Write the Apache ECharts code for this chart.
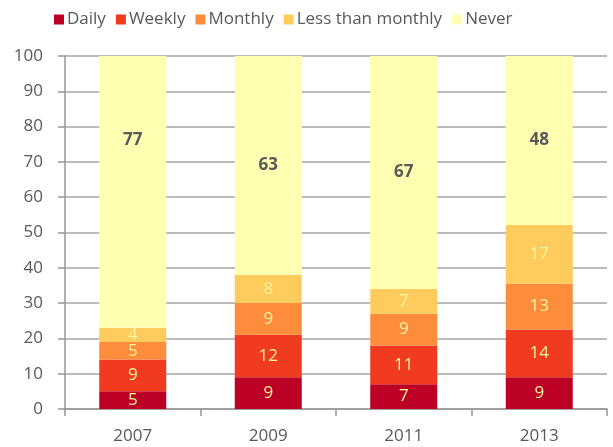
<!doctype html>
<html lang="en">
  <head>
    <meta charset="utf-8">
    <title>Frequency by year</title>
    <script src="https://cdn.jsdelivr.net/npm/echarts@6/dist/echarts.min.js"></script>
    <style>
      body { margin: 0; background: #fff; }
      #chart { width: 613px; height: 447px; }
    </style>
  </head>
  <body>
    <div id="chart"></div>
  <script>
    // data (2013 bars are a bit shorter than the rounded labels say)
    var years = ['2007', '2009', '2011', '2013'];
    var daily = [5, 9, 7, 9];
    var weekly = [9, 12, 11, 13.5];
    var monthly = [5, 9, 9, 13];
    var lessThanMonthly = [4, 8, 7, 16.6];
    var never = [77, 63, 67, 48];
    var yTicks = [0, 10, 20, 30, 40, 50, 60, 70, 80, 90, 100];

    var colors = ['#bd0026', '#f03b20', '#fd8d3c', '#fecc5c', '#ffffb2'];
    var font = 'Open Sans';

    function makeSeries(name, values, color, dark) {
      return {
        name: name,
        type: 'bar',
        stack: 'all',
        barWidth: 67,
        data: values,
        itemStyle: { color: color },
        label: {
          show: true,
          position: 'inside',
          formatter: function (p) { return Math.round(p.value); },
          fontFamily: font,
          fontSize: 17,
          fontWeight: dark ? 'bold' : 'normal',
          color: dark ? '#595959' : '#fbf59a'
        }
      };
    }

    var chart = echarts.init(document.getElementById('chart'), null, { renderer: 'canvas' });

    var neverSeries = makeSeries('Never', never, colors[4], true);
    // Excel put the 2007 label higher than the middle of its segment
    neverSeries.data = never.map(function (v, i) {
      return i === 0 ? { value: v, label: { offset: [0, -52] } } : v;
    });

    var option = {
      animation: false,
      color: colors,
      legend: {
        top: 6,
        left: 49,
        itemWidth: 10,
        itemHeight: 10,
        itemGap: 10,
        icon: 'rect',
        textStyle: { fontFamily: font, fontSize: 17, color: '#595959', padding: [0, 0, 0, -2] },
        data: ['Daily', 'Weekly', 'Monthly', 'Less than monthly', 'Never']
      },
      grid: { left: 65, right: 6, top: 56, bottom: 38 },
      xAxis: {
        type: 'category',
        data: years,
        axisLine: { lineStyle: { color: '#969696', width: 1.5 } },
        axisTick: { show: true, length: 7, lineStyle: { color: '#969696', width: 1.5 } },
        axisLabel: { fontFamily: font, fontSize: 17, color: '#595959', margin: 19 }
      },
      yAxis: {
        type: 'value',
        min: yTicks[0],
        max: yTicks[yTicks.length - 1],
        interval: 10,
        axisLine: { show: true, lineStyle: { color: '#969696', width: 1.5 } },
        axisTick: { show: true, length: 7, lineStyle: { color: '#969696', width: 1.5 } },
        axisLabel: { fontFamily: font, fontSize: 17, color: '#595959', margin: 22 },
        splitLine: { lineStyle: { color: '#a6a6a6', width: 1.5 } }
      },
      series: [
        makeSeries('Daily', daily, colors[0], false),
        makeSeries('Weekly', weekly, colors[1], false),
        makeSeries('Monthly', monthly, colors[2], false),
        makeSeries('Less than monthly', lessThanMonthly, colors[3], false),
        neverSeries
      ]
    };

    chart.setOption(option);
  </script>
  </body>
</html>
